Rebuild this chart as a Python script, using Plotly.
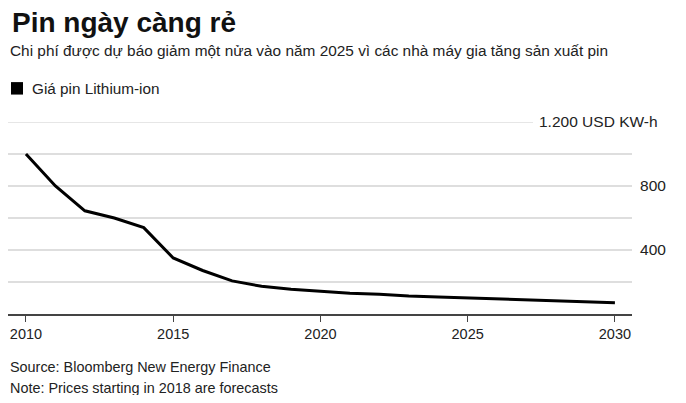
import plotly.graph_objects as go

years = list(range(2010, 2031))
prices = [1000, 800, 645, 600, 540, 350, 272, 207, 173, 154, 142, 130, 124, 113, 107, 101, 95, 89, 83, 77, 70]

x_tickvals = [2010, 2015, 2020, 2025, 2030]
x_ticktext = ["2010", "2015", "2020", "2025", "2030"]
y_tickvals = [200, 400, 600, 800, 1000]
y_ticktext = ["", "400", "", "800", ""]

title = "Pin ngày càng rẻ"
subtitle = "Chi phí được dự báo giảm một nửa vào năm 2025 vì các nhà máy gia tăng sản xuất pin"
legend_label = "Giá pin Lithium-ion"
top_label = "1.200 USD KW-h"
source = "Source: Bloomberg New Energy Finance"
note = "Note: Prices starting in 2018 are forecasts"

# page has an 8px body margin; positions below are in page pixels
OFF = 8
W, H = 686 - 2 * OFF, 403 - 2 * OFF
PL, PR, PT, PB = 8, 632, 122, 314.5   # plot area in page pixels
L, T = PL - OFF, PT - OFF
R = W - (PR - OFF)
B = H - (PB - OFF)
PW, PH = PR - PL, PB - PT

def px(x):
    return (x - PL) / PW

def py(y):
    return (PB - y) / PH

FONT = "Liberation Sans, Arial, sans-serif"

fig = go.Figure()
fig.add_trace(go.Scatter(x=years, y=prices, mode="lines",
                         line=dict(color="black", width=3),
                         showlegend=False, hoverinfo="skip"))

fig.update_layout(
    width=W, height=H,
    margin=dict(l=L, r=R, t=T, b=B, pad=0),
    paper_bgcolor="white", plot_bgcolor="white",
    font=dict(family=FONT, color="#222", size=14),
    xaxis=dict(range=[2009.39, 2030.58], tickvals=x_tickvals, ticktext=x_ticktext,
               showgrid=False, zeroline=False, showline=True, linecolor="#444", linewidth=1.5,
               ticks="outside", ticklen=6, tickcolor="#444", tickwidth=1,
               tickfont=dict(size=14.5, color="#222")),
    yaxis=dict(range=[0, 1200], side="right", tickvals=y_tickvals, ticktext=y_ticktext,
               showgrid=True, gridcolor="#dedede", gridwidth=1.5, zeroline=False,
               ticks="outside", ticklen=4, tickcolor="rgba(0,0,0,0)",
               tickfont=dict(size=15.5, color="#222")),
)

fig.add_shape(type="line", xref="paper", yref="y", x0=0, x1=px(533), y0=1200, y1=1200,
              line=dict(color="#dedede", width=1.5), layer="below")
fig.add_shape(type="rect", xref="paper", yref="paper", x0=px(11), x1=px(23), y0=py(94.5), y1=py(82),
              fillcolor="black", line=dict(width=0))

def ann(text, x, y, size, bold=False, color="#222"):
    fig.add_annotation(text=f"<b>{text}</b>" if bold else text, xref="paper", yref="paper",
                       x=px(x), y=py(y), xanchor="left", yanchor="middle", showarrow=False,
                       font=dict(size=size, color=color, family=FONT))

ann(title, 10, 22, 28, bold=True, color="#111")
ann(subtitle, 8, 50, 15.4)
ann(legend_label, 29.5, 88, 15.3)
ann(top_label, 537, 121, 15.5)
ann(source, 8, 368, 14.4)
ann(note, 8, 389, 14.4)

fig.write_html("out.html")
